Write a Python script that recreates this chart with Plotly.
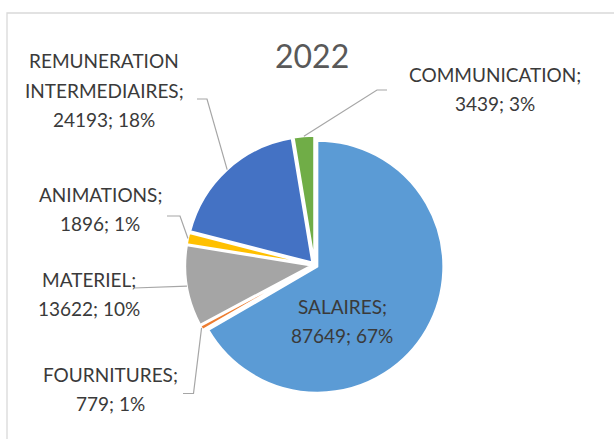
import math
import plotly.graph_objects as go

# data
categories = ['SALAIRES', 'FOURNITURES', 'MATERIEL', 'ANIMATIONS',
              'REMUNERATION INTERMEDIAIRES', 'COMMUNICATION']
values = [87649, 779, 13622, 1896, 24193, 3439]
colors = ['#5B9BD5', '#ED7D31', '#A5A5A5', '#FFC000', '#4472C4', '#70AD47']
title = '2022'

W, H = 614, 439
cx, cy = 314.5, 265.0   # pie centre in px
radius = 126.0
pull = 0.026
half = radius * (1 + pull)

# label layout: centre x, first line y, line break of the name, leader path
label_layout = {
    'SALAIRES': dict(x=342, y=306, lines=None, path=None),
    'FOURNITURES': dict(x=110, y=374, lines=None, path=[(183, 393.5), (193.5, 393.5)]),
    'MATERIEL': dict(x=89, y=279, lines=None, path=[(134, 288)]),
    'ANIMATIONS': dict(x=100, y=194, lines=None, path=[(167, 216), (180, 216)]),
    'REMUNERATION INTERMEDIAIRES': dict(x=104, y=61, lines=['REMUNERATION', 'INTERMEDIAIRES;'],
                                        path=[(197, 99), (207, 99)]),
    'COMMUNICATION': dict(x=495, y=74, lines=None, path=[(387, 90), (377, 90)]),
}
pitch = 29.5

text_color = '#3A3A3A'
font_family = 'Lato, Open Sans, sans-serif'


def px_to_paper(x, y):
    return x / W, 1 - y / H


fig = go.Figure(go.Pie(
    labels=categories,
    values=values,
    sort=False,
    direction='clockwise',
    rotation=0,
    pull=[pull] * len(values),
    marker=dict(colors=colors, line=dict(color='white', width=2)),
    textinfo='none',
    hoverinfo='label+value+percent',
    showlegend=False,
    domain=dict(x=[(cx - half) / W, (cx + half) / W],
                y=[1 - (cy + half) / H, 1 - (cy - half) / H]),
))

annotations = []
shapes = []

# chart area border (cut off on the right and bottom)
x0, y1 = px_to_paper(7, 13)
shapes.append(dict(type='rect', xref='paper', yref='paper', x0=x0, y0=-0.05, x1=1.05, y1=y1,
                   line=dict(color='#D9D9D9', width=1.3), fillcolor='rgba(0,0,0,0)'))

tx, ty = px_to_paper(312, 56)
annotations.append(dict(text=title, x=tx, y=ty, xref='paper', yref='paper', showarrow=False,
                        xanchor='center', yanchor='middle',
                        font=dict(family=font_family, size=32, color='#595959')))

total = sum(values)
cum = 0
for name, val in zip(categories, values):
    frac = val / total
    mid = (cum + frac / 2) * 2 * math.pi
    cum += frac
    lay = label_layout[name]
    lines = lay['lines'] or [name + ';']
    lines = lines + [f'{val}; {round(frac * 100)}%']
    for i, line in enumerate(lines):
        ax, ay = px_to_paper(lay['x'], lay['y'] + i * pitch)
        annotations.append(dict(text=line, x=ax, y=ay, xref='paper', yref='paper',
                                showarrow=False, xanchor='center', yanchor='middle',
                                font=dict(family=font_family, size=19, color=text_color)))
    if lay['path']:
        # leader ends on the slice edge at its mid angle
        ex = cx + half * math.sin(mid)
        ey = cy - half * math.cos(mid)
        pts = lay['path'] + [(ex, ey)]
        d = 'M ' + ' L '.join(f'{px_to_paper(px, py)[0]} {px_to_paper(px, py)[1]}' for px, py in pts)
        shapes.append(dict(type='path', xref='paper', yref='paper', path=d,
                           line=dict(color='#A6A6A6', width=1.2)))

fig.update_layout(
    width=W,
    height=H,
    margin=dict(l=0, r=0, t=0, b=0),
    paper_bgcolor='white',
    plot_bgcolor='white',
    annotations=annotations,
    shapes=shapes,
)

# drop the default body margin so the figure sits at the window origin
fig.write_html('out.html', config={'displayModeBar': False},
               post_script="document.body.style.margin='0px';")
